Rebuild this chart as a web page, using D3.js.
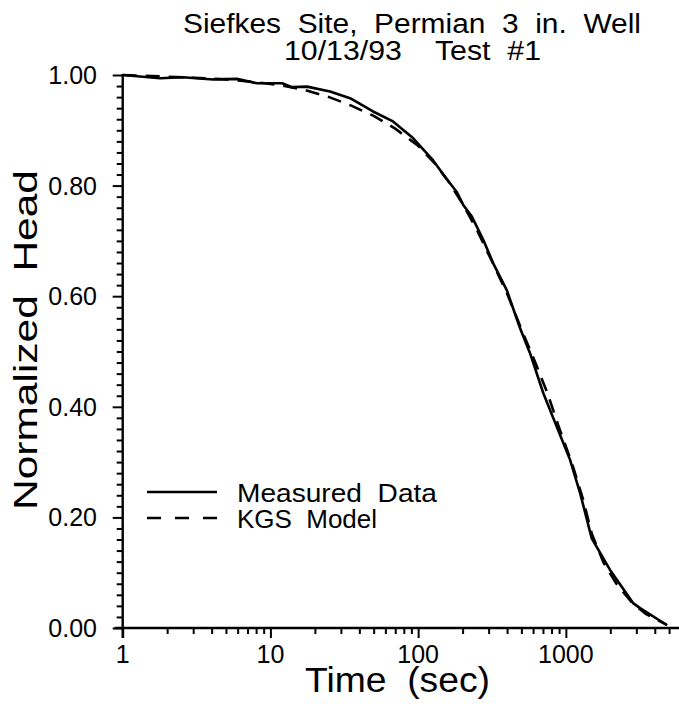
<!DOCTYPE html>
<html>
<head>
<meta charset="utf-8">
<script src="https://cdn.jsdelivr.net/npm/d3@7"></script>
<style>
  html, body { margin: 0; padding: 0; background: #fff; }
  svg { display: block; }
  text { font-family: "Liberation Sans", Arial, sans-serif; fill: #000; white-space: pre; }
</style>
</head>
<body>
<svg id="chart" width="679" height="704"></svg>
<script>
// Slug test response: measured normalized head vs. the KGS model fit
const titleLines = ["Siefkes  Site,  Permian  3  in.  Well", "10/13/93    Test  #1"];
const xLabel = "Time  (sec)";
const yLabel = "Normalized  Head";
const legendLabels = ["Measured  Data", "KGS  Model"];

const xMajorTicks = [1, 10, 100, 1000];
const xTickLabels = ["1", "10", "100", "1000"];
const yMajorTicks = [0, 0.2, 0.4, 0.6, 0.8, 1.0];
const yTickLabels = ["0.00", "0.20", "0.40", "0.60", "0.80", "1.00"];

// Measured data (time in seconds, normalized head)
const measuredTime = [1, 1.79, 2.56, 4.09, 5.94, 8.11, 12.0, 14.0, 17.7, 25.3, 34.6, 49.5, 67.6, 92.3,
  126, 152, 182, 202, 231, 276, 323, 398, 490, 572, 705, 868, 1068, 1249, 1497, 1991, 2851, 3183, 4850];
const measuredHead = [1.000, 0.994, 0.996, 0.992, 0.993, 0.985, 0.985, 0.978, 0.979, 0.970, 0.958, 0.934, 0.916, 0.886,
  0.846, 0.816, 0.789, 0.765, 0.744, 0.702, 0.659, 0.611, 0.542, 0.497, 0.424, 0.364, 0.304, 0.244, 0.162, 0.105, 0.045, 0.036, 0.005];

// KGS model curve
const modelTime = [1, 2, 3, 5, 8, 12, 17, 25, 35, 50, 70, 100, 130, 160, 200, 250, 320, 400, 500, 600,
  750, 900, 1100, 1300, 1500, 1800, 2200, 2800, 3500, 4800];
const modelHead = [1.000, 0.997, 0.995, 0.992, 0.987, 0.981, 0.973, 0.960, 0.945, 0.926, 0.903, 0.872, 0.840, 0.808, 0.767, 0.720, 0.660, 0.605, 0.540, 0.490,
  0.425, 0.362, 0.298, 0.235, 0.170, 0.118, 0.080, 0.046, 0.025, 0.006];

const svg = d3.select("#chart");

const x = d3.scaleLog().domain([1, 6000]).range([122.7, 680.8]);
const y = d3.scaleLinear().domain([0, 1]).range([628, 75]);

// minor x ticks: 2..9 within each decade
const xMinorTicks = [];
[1, 10, 100, 1000].forEach(d => { for (let k = 2; k <= 9; k++) { if (d * k <= 6000) xMinorTicks.push(d * k); } });
const yMinorTicks = d3.range(0, 51).map(i => i * 0.02).filter(v => Math.abs((v * 5) - Math.round(v * 5)) > 1e-6);

const axisStroke = 2.4;

// X axis
const gx = svg.append("g").attr("transform", `translate(0,${y(0)})`);
gx.call(d3.axisBottom(x).tickValues(xMinorTicks).tickSize(6).tickFormat(""))
  .call(g => g.select(".domain").remove());
gx.append("g").call(d3.axisBottom(x).tickValues(xMajorTicks).tickSize(10).tickFormat(""))
  .call(g => g.select(".domain").remove());
gx.selectAll(".tick line").attr("stroke", "#000").attr("stroke-width", 2);
gx.append("line").attr("x1", x(1) - 8).attr("x2", 679).attr("stroke", "#000").attr("stroke-width", axisStroke);

svg.append("g").selectAll("text").data(xMajorTicks).join("text")
  .attr("x", d => x(d)).attr("y", y(0) + 35)
  .attr("text-anchor", "middle").attr("font-size", 25)
  .text((d, i) => xTickLabels[i]);

// Y axis
const gy = svg.append("g").attr("transform", `translate(${x(1)},0)`);
gy.call(d3.axisLeft(y).tickValues(yMinorTicks).tickSize(6).tickFormat(""))
  .call(g => g.select(".domain").remove());
gy.append("g").call(d3.axisLeft(y).tickValues(yMajorTicks).tickSize(10).tickFormat(""))
  .call(g => g.select(".domain").remove());
gy.selectAll(".tick line").attr("stroke", "#000").attr("stroke-width", 2);
gy.append("line").attr("y1", y(1) - 1).attr("y2", y(0) + 10).attr("stroke", "#000").attr("stroke-width", axisStroke);

svg.append("g").selectAll("text").data(yMajorTicks).join("text")
  .attr("x", 97).attr("y", d => y(d) + 9)
  .attr("text-anchor", "end").attr("font-size", 25)
  .text((d, i) => yTickLabels[i]);

// Curves
const line = d3.line().x(d => x(d[0])).y(d => y(d[1]));
const measured = d3.zip(measuredTime, measuredHead);
const model = d3.zip(modelTime, modelHead);

svg.append("path").datum(model).attr("d", line)
  .attr("fill", "none").attr("stroke", "#000").attr("stroke-width", 2.6)
  .attr("stroke-dasharray", "14,9");
svg.append("path").datum(measured).attr("d", line)
  .attr("fill", "none").attr("stroke", "#000").attr("stroke-width", 2.6)
  .attr("stroke-linejoin", "round");

// Titles (stretched to the plotter lettering widths)
svg.append("text").attr("x", 183).attr("y", 33)
  .attr("font-size", 27).attr("textLength", 458).attr("lengthAdjust", "spacingAndGlyphs")
  .text(titleLines[0]);
svg.append("text").attr("x", 284).attr("y", 60)
  .attr("font-size", 27).attr("textLength", 257).attr("lengthAdjust", "spacingAndGlyphs")
  .text(titleLines[1]);

svg.append("text").attr("x", 305).attr("y", 692)
  .attr("font-size", 35).attr("textLength", 185).attr("lengthAdjust", "spacingAndGlyphs")
  .text(xLabel);

svg.append("text").attr("transform", "translate(37,510) rotate(-90)")
  .attr("font-size", 33).attr("textLength", 340).attr("lengthAdjust", "spacingAndGlyphs")
  .text(yLabel);

// Legend
const legend = svg.append("g");
legend.append("line").attr("x1", 147).attr("x2", 217).attr("y1", 492).attr("y2", 492)
  .attr("stroke", "#000").attr("stroke-width", 2.4);
legend.append("line").attr("x1", 147).attr("x2", 217).attr("y1", 518).attr("y2", 518)
  .attr("stroke", "#000").attr("stroke-width", 2.4).attr("stroke-dasharray", "14,14");
legend.append("text").attr("x", 237).attr("y", 502).attr("font-size", 25)
  .attr("textLength", 200).attr("lengthAdjust", "spacingAndGlyphs").text(legendLabels[0]);
legend.append("text").attr("x", 237).attr("y", 528).attr("font-size", 25)
  .attr("textLength", 140).attr("lengthAdjust", "spacingAndGlyphs").text(legendLabels[1]);
</script>
</body>
</html>
